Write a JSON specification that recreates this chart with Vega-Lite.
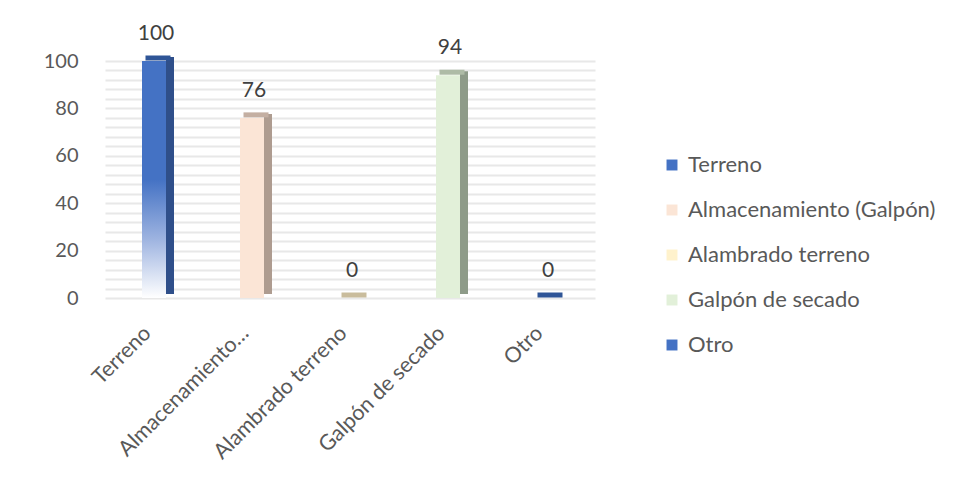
{
  "$schema": "https://vega.github.io/schema/vega-lite/v6.json",
  "autosize": "none",
  "padding": {"left": 105, "top": 61, "right": 361, "bottom": 196},
  "width": 490,
  "height": 237,
  "background": "white",
  "config": {
    "view": {"stroke": null},
    "font": "Lato",
    "axis": {"labelFont": "Lato", "labelColor": "#595959", "domain": false, "ticks": false}
  },
  "data": {
    "values": [
      {"cat": "Terreno", "value": 100, "side": "#2F4F8A", "top": "#2F5597"},
      {"cat": "Almacenamiento (Galpón)", "value": 76, "side": "#AE9C90", "top": "#C4AFA2"},
      {"cat": "Alambrado terreno", "value": 0, "side": "#C9BC9C", "top": "#C9BC9C"},
      {"cat": "Galpón de secado", "value": 94, "side": "#8E9B89", "top": "#AEBBA6"},
      {"cat": "Otro", "value": 0, "side": "#2F5597", "top": "#2F5597"}
    ]
  },
  "encoding": {
    "x": {
      "field": "cat", "type": "nominal",
      "sort": ["Terreno", "Almacenamiento (Galpón)", "Alambrado terreno", "Galpón de secado", "Otro"],
      "scale": {"paddingInner": 0.2, "paddingOuter": 0.1},
      "axis": {
        "title": null, "labelAngle": -45, "labelFontSize": 21.5, "labelPadding": 24, "labelOffset": -14,
        "labelExpr": "datum.label == 'Almacenamiento (Galpón)' ? 'Almacenamiento…' : datum.label"
      }
    },
    "y": {
      "field": "value", "type": "quantitative",
      "scale": {"domain": [0, 100], "nice": false},
      "axis": {
        "title": null, "labelFontSize": 20, "labelPadding": 27,
        "values": [0,4,8,12,16,20,24,28,32,36,40,44,48,52,56,60,64,68,72,76,80,84,88,92,96,100],
        "labelExpr": "datum.value % 20 === 0 ? datum.label : ''",
        "gridColor": "#E8E8E8", "gridWidth": 2
      }
    }
  },
  "layer": [
    {
      "transform": [{"filter": "datum.value > 0"}],
      "mark": {"type": "bar", "width": 8, "xOffset": 16, "yOffset": -4},
      "encoding": {"color": {"field": "side", "type": "nominal", "scale": null}}
    },
    {
      "mark": {"type": "tick", "thickness": 5, "size": 25, "xOffset": 4, "yOffset": -3, "opacity": 1},
      "encoding": {"color": {"field": "top", "type": "nominal", "scale": null}}
    },
    {
      "transform": [{"filter": "datum.cat != 'Terreno'"}],
      "mark": {"type": "bar", "width": 24},
      "encoding": {
        "color": {
          "field": "cat", "type": "nominal",
          "sort": ["Terreno", "Almacenamiento (Galpón)", "Alambrado terreno", "Galpón de secado", "Otro"],
          "scale": {
            "domain": ["Terreno", "Almacenamiento (Galpón)", "Alambrado terreno", "Galpón de secado", "Otro"],
            "range": ["#4472C4", "#FBE5D6", "#FFF2CC", "#E2F0D9", "#4472C4"]
          },
          "legend": {
            "title": null, "orient": "none", "legendX": 556, "legendY": 93,
            "symbolType": "square", "symbolSize": 120, "symbolStrokeWidth": 0,
            "labelFontSize": 22, "labelColor": "#595959", "labelFont": "Lato",
            "labelOffset": 5, "rowPadding": 23, "labelLimit": 300
          }
        }
      }
    },
    {
      "transform": [{"filter": "datum.cat == 'Terreno'"}],
      "mark": {
        "type": "bar", "width": 24,
        "color": {
          "gradient": "linear", "x1": 0, "y1": 0, "x2": 0, "y2": 1,
          "stops": [
            {"offset": 0, "color": "#4472C4"},
            {"offset": 0.5, "color": "#4472C4"},
            {"offset": 0.75, "color": "#9DB3E0"},
            {"offset": 1, "color": "#FFFFFF"}
          ]
        }
      }
    },
    {
      "mark": {"type": "text", "dy": -27, "dx": 2, "fontSize": 21, "color": "#404040", "font": "Lato"},
      "encoding": {"text": {"field": "value", "type": "quantitative"}}
    }
  ]
}
